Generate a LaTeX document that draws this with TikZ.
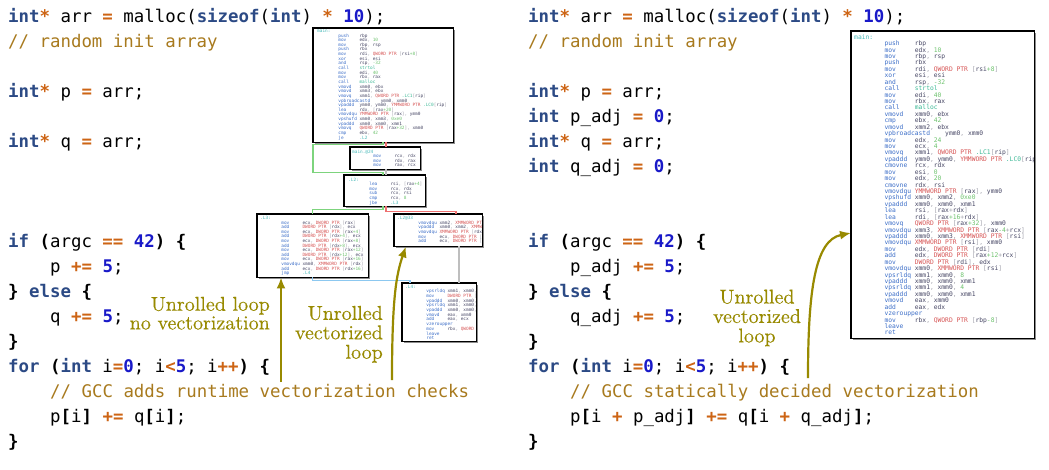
\documentclass[tikz,border=0pt]{standalone}
\usepackage{fontspec}
\setmonofont{DejaVu Sans Mono}
\newfontfamily\annfont{lmroman10-regular.otf}[FakeBold=0.3]
\usetikzlibrary{arrows.meta,shadows}

\definecolor{kwc}{RGB}{44,74,133}
\definecolor{opc}{RGB}{205,100,20}
\definecolor{nmc}{RGB}{25,25,200}
\definecolor{cmc}{RGB}{168,122,30}
\definecolor{anc}{RGB}{152,138,0}
\definecolor{lblc}{RGB}{70,185,185}
\definecolor{mnc}{RGB}{60,110,200}
\definecolor{regc}{RGB}{70,70,100}
\definecolor{ptrc}{RGB}{215,85,85}
\definecolor{numc}{RGB}{110,195,110}
\definecolor{pnc}{RGB}{160,160,170}
\definecolor{fnc}{RGB}{60,185,150}
\definecolor{cfgreen}{RGB}{125,212,125}
\definecolor{cfred}{RGB}{238,112,112}
\definecolor{cfblue}{RGB}{140,200,240}
\definecolor{cfgray}{RGB}{190,190,190}

\newcommand\K[1]{\textcolor{kwc}{\textbf{#1}}}
\newcommand\Op[1]{\textcolor{opc}{\textbf{#1}}}
\newcommand\Nn[1]{\textcolor{nmc}{\textbf{#1}}}
\newcommand\Cmt[1]{\textcolor{cmc}{#1}}
\newcommand\Bk[1]{\textbf{#1}}

\newlength\cw
\newcommand\Lb[1]{\textcolor{lblc}{#1}}
\newcommand\I[2]{\hspace*{8\cw}\sbox0{\textcolor{mnc}{#1}}\ifdim\wd0<7.9\cw\makebox[8\cw][l]{\usebox0}\else\makebox[16\cw][l]{\usebox0}\fi{\color{regc}#2}}
\newcommand\Pt[1]{\textcolor{ptrc}{#1}}
\newcommand\Nu[1]{\textcolor{numc}{#1}}
\newcommand\Sq[1]{\textcolor{pnc}{[}#1\textcolor{pnc}{]}}
\newcommand\Fn[1]{\textcolor{fnc}{#1}}
\newcommand\Co{\textcolor{pnc}{,}\ }
\newcommand\asmblock[3]{\parbox[t]{500pt}{\ttfamily\fontsize{#1}{#2}\selectfont\settowidth{\cw}{0}\raggedright #3}}

\tikzset{
  code/.style={font=\ttfamily\fontsize{17.4}{25}\selectfont, anchor=base west, inner sep=0pt},
  ann/.style={font=\annfont\fontsize{20}{18.5}\selectfont, text=anc, inner sep=0pt},
  annarrow/.style={draw=anc, line width=2.2pt, -{Latex[length=11pt,width=9pt]}},
  asmbg/.style={fill=white, draw=none, inner sep=0pt, anchor=north west,
     drop shadow={shadow xshift=1.3pt, shadow yshift=-1.3pt, fill=black, opacity=0.45}},
  asmline/.style={draw=black, line width=1.3pt},
  asmtext/.style={anchor=base west, inner sep=0pt},
  cfg/.style={line width=1.1pt},
}

\begin{document}
\begin{tikzpicture}[x=1pt,y=-1pt]
\useasboundingbox (0,0) rectangle (1049,469);
\fill[white] (0,0) rectangle (1049,469);

% ---------------- left code ----------------
\node[code] (l1) at (8,22.7) {\K{int}\Op{*} arr \Op{=} malloc(\K{sizeof}(\K{int}) \Op{*} \Nn{10});};
\node[code] (l2) at (8,47.7) {\Cmt{// random init array}};
\node[code] (l4) at (8,97.7) {\K{int}\Op{*} p \Op{=} arr;};
\node[code] (l6) at (8,147.7) {\K{int}\Op{*} q \Op{=} arr;};
\node[code] (l10) at (8,247.7) {\K{if} \Bk{(}argc \Op{==} \Nn{42}\Bk{)} \Bk{\{}};
\node[code] (l11) at (50,272.7) {p \Op{+=} \Nn{5};};
\node[code] (l12) at (8,297.7) {\Bk{\}} \K{else} \Bk{\{}};
\node[code] (l13) at (50,322.7) {q \Op{+=} \Nn{5};};
\node[code] (l14) at (8,347.7) {\Bk{\}}};
\node[code] (l15) at (8,372.7) {\K{for} \Bk{(}\K{int} i\Op{=}\Nn{0}; i\Op{<}\Nn{5}; i\Op{++}\Bk{)} \Bk{\{}};
\node[code] (l16) at (50,397.7) {\Cmt{// GCC adds runtime vectorization checks}};
\node[code] (l17) at (50,422.7) {p\Bk{[}i\Bk{]} \Op{+=} q\Bk{[}i\Bk{]};};
\node[code] (l18) at (8,447.7) {\Bk{\}}};

% ---------------- right code ----------------
\node[code] (r1) at (528,22.7) {\K{int}\Op{*} arr \Op{=} malloc(\K{sizeof}(\K{int}) \Op{*} \Nn{10});};
\node[code] (r2) at (528,47.7) {\Cmt{// random init array}};
\node[code] (r4) at (528,97.7) {\K{int}\Op{*} p \Op{=} arr;};
\node[code] (r5) at (528,122.7) {\K{int} p\_adj \Op{=} \Nn{0};};
\node[code] (r6) at (528,147.7) {\K{int}\Op{*} q \Op{=} arr;};
\node[code] (r7) at (528,172.7) {\K{int} q\_adj \Op{=} \Nn{0};};
\node[code] (r10) at (528,247.7) {\K{if} \Bk{(}argc \Op{==} \Nn{42}\Bk{)} \Bk{\{}};
\node[code] (r11) at (570,272.7) {p\_adj \Op{+=} \Nn{5};};
\node[code] (r12) at (528,297.7) {\Bk{\}} \K{else} \Bk{\{}};
\node[code] (r13) at (570,322.7) {q\_adj \Op{+=} \Nn{5};};
\node[code] (r14) at (528,347.7) {\Bk{\}}};
\node[code] (r15) at (528,372.7) {\K{for} \Bk{(}\K{int} i\Op{=}\Nn{0}; i\Op{<}\Nn{5}; i\Op{++}\Bk{)} \Bk{\{}};
\node[code] (r16) at (570,397.7) {\Cmt{// GCC statically decided vectorization}};
\node[code] (r17) at (570,422.7) {p\Bk{[}i \Op{+} p\_adj\Bk{]} \Op{+=} q\Bk{[}i \Op{+} q\_adj\Bk{]};};
\node[code] (r18) at (528,447.7) {\Bk{\}}};

% ---------------- left CFG boxes ----------------
\node[asmbg, minimum width=140, minimum height=114] (mainL) at (313,28) {};
\node[asmbg, minimum width=70, minimum height=22] (A24) at (350,147) {};
\node[asmbg, minimum width=81, minimum height=31] (L2) at (344,175) {};
\node[asmbg, minimum width=111, minimum height=63] (L3) at (257,214) {};
\node[asmbg, minimum width=88, minimum height=32] (L2b) at (394,214) {};
\node[asmbg, minimum width=74, minimum height=58] (L4) at (402,283) {};
\node[asmbg, minimum width=183, minimum height=307] (mainR) at (851,31) {};

\begin{scope}
\clip (mainL.north west) rectangle (mainL.south east);
\node[asmtext] (mainLt) at (317,32.4) {\asmblock{4.4}{4.64}{%
\Lb{main:}\\
\I{push}{rbp}\\
\I{mov}{edx\Co\Nu{10}}\\
\I{mov}{rbp\Co rsp}\\
\I{push}{rbx}\\
\I{mov}{rdi\Co\Pt{QWORD PTR} \Sq{rsi\Nu{+8}}}\\
\I{xor}{esi\Co esi}\\
\I{and}{rsp\Co\Nu{-32}}\\
\I{call}{\Fn{strtol}}\\
\I{mov}{edi\Co\Nu{40}}\\
\I{mov}{rbx\Co rax}\\
\I{call}{\Fn{malloc}}\\
\I{vmovd}{xmm0\Co ebx}\\
\I{vmovd}{xmm3\Co ebx}\\
\I{vmovq}{xmm1\Co\Pt{QWORD PTR} \Fn{.LC1}\Sq{rip}}\\
\I{vpbroadcastd}{ymm0\Co xmm0}\\
\I{vpaddd}{ymm0\Co ymm0\Co\Pt{YMMWORD PTR} \Fn{.LC0}\Sq{rip}}\\
\I{lea}{rdx\Co\Sq{rax\Nu{+20}}}\\
\I{vmovdqu}{\Pt{YMMWORD PTR} \Sq{rax}\Co ymm0}\\
\I{vpshufd}{xmm0\Co xmm3\Co\Nu{0xe0}}\\
\I{vpaddd}{xmm0\Co xmm0\Co xmm1}\\
\I{vmovq}{\Pt{QWORD PTR} \Sq{rax\Nu{+32}}\Co xmm0}\\
\I{cmp}{ebx\Co\Nu{42}}\\
\I{je}{\Lb{.L2}}}};
\end{scope}

\begin{scope}
\clip (A24.north west) rectangle (A24.south east);
\node[asmtext] (A24t) at (352,153) {\asmblock{4.4}{4.64}{%
\Lb{main.@24}\\
\I{mov}{rcx\Co rdx}\\
\I{mov}{rdx\Co rax}\\
\I{mov}{rax\Co rcx}}};
\end{scope}

\begin{scope}
\clip (L2.north west) rectangle (L2.south east);
\node[asmtext] (L2t) at (348,181) {\asmblock{4.4}{4.64}{%
\Lb{.L2:}\\
\I{lea}{rsi\Co\Sq{rax\Nu{+4}}}\\
\I{mov}{rcx\Co rdx}\\
\I{sub}{rcx\Co rsi}\\
\I{cmp}{rcx\Co\Nu{8}}\\
\I{jbe}{\Lb{.L3}}}};
\end{scope}

\begin{scope}
\clip (L3.north west) rectangle (L3.south east);
\node[asmtext] (L3t) at (260,219.5) {\asmblock{4.4}{4.6}{%
\Lb{.L3:}\\
\I{mov}{ecx\Co\Pt{DWORD PTR} \Sq{rax}}\\
\I{add}{\Pt{DWORD PTR} \Sq{rdx}\Co ecx}\\
\I{mov}{ecx\Co\Pt{DWORD PTR} \Sq{rax\Nu{+4}}}\\
\I{add}{\Pt{DWORD PTR} \Sq{rdx\Nu{+4}}\Co ecx}\\
\I{mov}{ecx\Co\Pt{DWORD PTR} \Sq{rax\Nu{+8}}}\\
\I{add}{\Pt{DWORD PTR} \Sq{rdx\Nu{+8}}\Co ecx}\\
\I{mov}{ecx\Co\Pt{DWORD PTR} \Sq{rax\Nu{+12}}}\\
\I{add}{\Pt{DWORD PTR} \Sq{rdx\Nu{+12}}\Co ecx}\\
\I{mov}{ecx\Co\Pt{DWORD PTR} \Sq{rax\Nu{+16}}}\\
\I{vmovdqu}{xmm0\Co\Pt{XMMWORD PTR} \Sq{rdx}}\\
\I{add}{ecx\Co\Pt{DWORD PTR} \Sq{rdx\Nu{+16}}}\\
\I{jmp}{\Lb{.L4}}}};
\end{scope}

\begin{scope}
\clip (L2b.north west) rectangle (L2b.south east);
\node[asmtext] (L2bt) at (397,219.5) {\asmblock{4.4}{4.64}{%
\Lb{.L2@33}\\
\I{vmovdqu}{xmm2\Co\Pt{XMMWORD PTR} \Sq{rdx}}\\
\I{vpaddd}{xmm0\Co xmm2\Co\Pt{XMMWORD PTR} \Sq{rax}}\\
\I{vmovdqu}{\Pt{XMMWORD PTR} \Sq{rdx}\Co xmm0}\\
\I{mov}{ecx\Co\Pt{DWORD PTR} \Sq{rdx\Nu{+16}}}\\
\I{add}{ecx\Co\Pt{DWORD PTR} \Sq{rax\Nu{+16}}}}};
\end{scope}

\begin{scope}
\clip (L4.north west) rectangle (L4.south east);
\node[asmtext] (L4t) at (405,288) {\asmblock{4.4}{4.7}{%
\Lb{.L4:}\\
\I{vpsrldq}{xmm1\Co xmm0\Co\Nu{8}}\\
\I{mov}{\Pt{DWORD PTR} \Sq{rdx\Nu{+16}}\Co ecx}\\
\I{vpaddd}{xmm0\Co xmm0\Co xmm1}\\
\I{vpsrldq}{xmm1\Co xmm0\Co\Nu{4}}\\
\I{vpaddd}{xmm0\Co xmm0\Co xmm1}\\
\I{vmovd}{eax\Co xmm0}\\
\I{add}{eax\Co ecx}\\
\I{vzeroupper}{}\\
\I{mov}{rbx\Co\Pt{QWORD PTR} \Sq{rbp\Nu{-8}}}\\
\I{leave}{}\\
\I{ret}{}}};
\end{scope}

\begin{scope}
\clip (mainR.north west) rectangle (mainR.south east);
\node[asmtext] (mainRt) at (854,39.2) {\asmblock{6.3}{6.43}{%
\Lb{main:}\\
\I{push}{rbp}\\
\I{mov}{edx\Co\Nu{10}}\\
\I{mov}{rbp\Co rsp}\\
\I{push}{rbx}\\
\I{mov}{rdi\Co\Pt{QWORD PTR} \Sq{rsi\Nu{+8}}}\\
\I{xor}{esi\Co esi}\\
\I{and}{rsp\Co\Nu{-32}}\\
\I{call}{\Fn{strtol}}\\
\I{mov}{edi\Co\Nu{40}}\\
\I{mov}{rbx\Co rax}\\
\I{call}{\Fn{malloc}}\\
\I{vmovd}{xmm0\Co ebx}\\
\I{cmp}{ebx\Co\Nu{42}}\\
\I{vmovd}{xmm2\Co ebx}\\
\I{vpbroadcastd}{ymm0\Co xmm0}\\
\I{mov}{edx\Co\Nu{24}}\\
\I{mov}{ecx\Co\Nu{4}}\\
\I{vmovq}{xmm1\Co\Pt{QWORD PTR} \Fn{.LC1}\Sq{rip}}\\
\I{vpaddd}{ymm0\Co ymm0\Co\Pt{YMMWORD PTR} \Fn{.LC0}\Sq{rip}}\\
\I{cmovne}{rcx\Co rdx}\\
\I{mov}{esi\Co\Nu{0}}\\
\I{mov}{edx\Co\Nu{20}}\\
\I{cmovne}{rdx\Co rsi}\\
\I{vmovdqu}{\Pt{YMMWORD PTR} \Sq{rax}\Co ymm0}\\
\I{vpshufd}{xmm0\Co xmm2\Co\Nu{0xe0}}\\
\I{vpaddd}{xmm0\Co xmm0\Co xmm1}\\
\I{lea}{rsi\Co\Sq{rax\textcolor{pnc}{+}rdx}}\\
\I{lea}{rdi\Co\Sq{rax\Nu{+16}\textcolor{pnc}{+}rdx}}\\
\I{vmovq}{\Pt{QWORD PTR} \Sq{rax\Nu{+32}}\Co xmm0}\\
\I{vmovdqu}{xmm3\Co\Pt{XMMWORD PTR} \Sq{rax\Nu{-4}\textcolor{pnc}{+}rcx}}\\
\I{vpaddd}{xmm0\Co xmm3\Co\Pt{XMMWORD PTR} \Sq{rsi}}\\
\I{vmovdqu}{\Pt{XMMWORD PTR} \Sq{rsi}\Co xmm0}\\
\I{mov}{edx\Co\Pt{DWORD PTR} \Sq{rdi}}\\
\I{add}{edx\Co\Pt{DWORD PTR} \Sq{rax\Nu{+12}\textcolor{pnc}{+}rcx}}\\
\I{mov}{\Pt{DWORD PTR} \Sq{rdi}\Co edx}\\
\I{vmovdqu}{xmm0\Co\Pt{XMMWORD PTR} \Sq{rsi}}\\
\I{vpsrldq}{xmm1\Co xmm0\Co\Nu{8}}\\
\I{vpaddd}{xmm0\Co xmm0\Co xmm1}\\
\I{vpsrldq}{xmm1\Co xmm0\Co\Nu{4}}\\
\I{vpaddd}{xmm0\Co xmm0\Co xmm1}\\
\I{vmovd}{eax\Co xmm0}\\
\I{add}{eax\Co edx}\\
\I{vzeroupper}{}\\
\I{mov}{rbx\Co\Pt{QWORD PTR} \Sq{rbp\Nu{-8}}}\\
\I{leave}{}\\
\I{ret}{}}};
\end{scope}

% borders
\foreach \b in {mainL,A24,L2,L3,L2b,L4,mainR}
  \draw[asmline] (\b.north west) rectangle (\b.south east);

% ---------------- CFG connectors ----------------
\coordinate (gx) at ([xshift=70pt]mainL.south west);
\coordinate (rx) at ([xshift=73pt]mainL.south west);
\draw[cfg, cfgreen] (gx) -- ++(0,2.5) -- ++(-70,0) -- ++(0,27.5) -- ++(70,0) -- (L2.north -| gx);
\draw[cfg, cfred] (rx) -- (A24.north -| rx);
\draw[cfg, cfgray] (A24.south -| rx) -- (L2.north -| rx);
\draw[cfg, cfgreen] (L2.south -| gx) -- ++(0,3) -| (L3.north);
\draw[cfg, cfred] (L2.south -| rx) -- ++(0,5) -| ([xshift=62pt]L2b.north west);
\draw[cfg, cfgray] ([xshift=65pt]L2b.south west) -- ([xshift=57pt]L4.north west);
\draw[cfg, cfblue] (L3.south) -- ++(0,3) -| ([xshift=8pt]L4.north west);

% ---------------- annotations ----------------
\node[ann, anchor=base east] (ann1) at (270,310.7)
  {\begin{tabular}[t]{@{}r@{}}Unrolled loop\\no vectorization\end{tabular}};
\node[ann, anchor=base east] (ann2) at (383,319.8)
  {\begin{tabular}[t]{@{}r@{}}Unrolled\\vectorized\\loop\end{tabular}};
\node[ann, anchor=base] (ann3) at (757,303.5)
  {\begin{tabular}[t]{@{}c@{}}Unrolled\\vectorized\\loop\end{tabular}};

\coordinate (a1s) at (281,382);
\coordinate (a2s) at (392,380);
\coordinate (a3s) at (808,378);
\draw[annarrow] (a1s) -- (a1s |- L3.south);
\draw[annarrow] (a2s) .. controls (392,300) and (396,275) .. ([xshift=12pt]L2b.south west);
\draw[annarrow] (a3s) .. controls (808,290) and (815,240) .. (mainR.west |- 0,233);
\end{tikzpicture}
\end{document}
